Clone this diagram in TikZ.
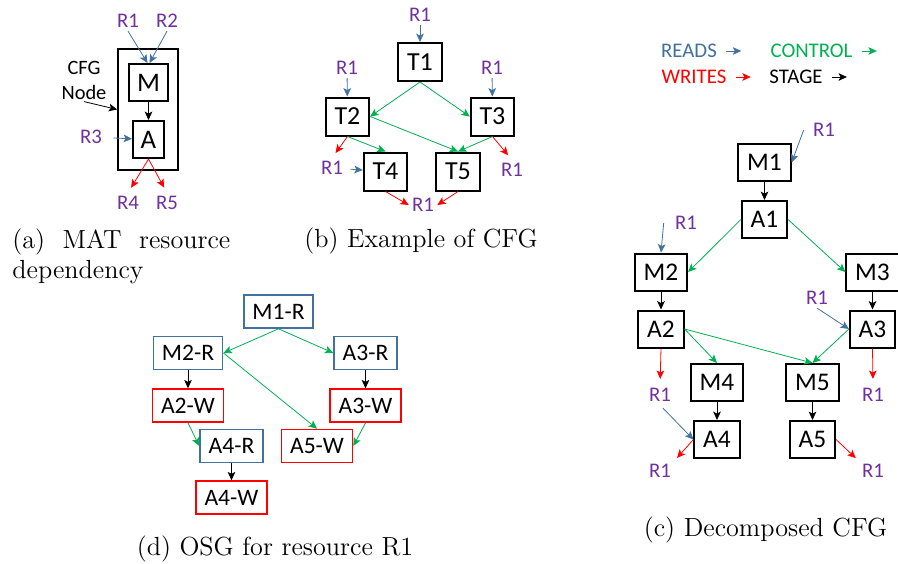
\documentclass[tikz,border=0pt]{standalone}
\usepackage{fontspec}
\setsansfont{Carlito}
\usepackage{xcolor}
\usetikzlibrary{arrows.meta, positioning}
\definecolor{rdblue}{HTML}{41719C}
\definecolor{respurple}{HTML}{7030A0}
\definecolor{ctlgreen}{HTML}{00B050}
\definecolor{wrred}{HTML}{FF0000}
\tikzset{
	node distance = 9pt,
	line width = .65pt,
	>={Stealth[length=4.2pt, width=3.8pt, inset=1pt]},
	font = \sffamily,
	stagebox/.style={
		draw,
		line width=1pt,
		inner xsep=4.4pt,
		inner ysep=0pt,
		minimum height=18.5pt,
		font=\sffamily\fontsize{12.7}{14}\selectfont
	},
	bigbox/.style={
		stagebox,
		minimum height=19pt,
		font=\sffamily\fontsize{13}{15}\selectfont
	},
	opbox/.style={
		draw,
		line width=.8pt,
		inner xsep=4.3pt,
		inner ysep=0pt,
		minimum height=16.5pt,
		font=\sffamily\fontsize{11.8}{13}\selectfont
	},
	readbox/.style={opbox, draw=rdblue},
	writebox/.style={opbox, draw=wrred},
	res/.style={
		text=respurple,
		inner sep=1.5pt,
		font=\sffamily\fontsize{10.4}{12}\selectfont
	},
	legend/.style={
		inner sep=0pt,
		font=\sffamily\fontsize{10.4}{12}\selectfont
	},
	rd/.style={->, rdblue},
	wr/.style={->, wrred},
	ctl/.style={->, ctlgreen},
	stg/.style={->, black},
	subcap/.style={
		inner sep=0pt,
		font=\rmfamily\fontsize{13.1}{15.3}\selectfont
	}
}

\begin{document}
\begin{tikzpicture}[x=.5pt, y=-.5pt]
		\useasboundingbox (0,0) rectangle (898,563);

		% (a) one CFG node
		\node[bigbox, minimum width=19.5pt, minimum height=18.5pt, inner xsep=0pt, font=\sffamily\fontsize{13.4}{15}\selectfont] (m) at (148.5,82.5) {M};
		\node[bigbox, minimum width=15.5pt, minimum height=18.5pt, inner xsep=0pt, font=\sffamily\fontsize{13.4}{15}\selectfont, below=of m] (a) {A};
		\node[draw, line width=.8pt, minimum width=30pt, minimum height=60.5pt] (cfg) at (148,109.5) {};
		\node[legend, align=center, font=\sffamily\fontsize{10.2}{12.5}\selectfont] (cfgnote) at (84,80) {CFG\\Node};
		\node[res] (ra1) at (128,21) {R1};
		\node[res] (ra2) at (167,21) {R2};
		\node[res] (ra3) at (91,137) {R3};
		\node[res] (ra4) at (128,203) {R4};
		\node[res] (ra5) at (167,203) {R5};

		\draw[stg] ([yshift=-1pt]cfgnote.south) -- (cfg.west);
		\draw[rd] (ra1.south) -- ([xshift=-.5pt]m.north);
		\draw[rd] (ra2.south) -- ([xshift=.5pt]m.north);
		\draw[stg] (m) -- (a);
		\draw[rd, shorten <=4pt] (ra3) -- (a);
		\draw[wr, shorten >=3pt] (a.south) -- (ra4.north);
		\draw[wr, shorten >=3pt] (a.south) -- (ra5.north);

		% (b) control flow graph
		\node[bigbox] (t1) at (420,62) {T1};
		\node[bigbox] (t2) at (347.5,116.5) {T2};
		\node[bigbox] (t3) at (492.5,116.5) {T3};
		\node[bigbox] (t4) at (385.5,171.5) {T4};
		\node[bigbox] (t5) at (458,171.5) {T5};
		\node[res] (rb1) at (420,15) {R1};
		\node[res] (rb2) at (347,68) {R1};
		\node[res] (rb3) at (492,68) {R1};
		\node[res] (rb4) at (332,168) {R1};
		\node[res] (rb5) at (512,170) {R1};
		\node[res] (rb6) at (423,205) {R1};

		\draw[rd] (rb1) -- (t1);
		\draw[rd] (rb2) -- (t2);
		\draw[rd] (rb3) -- (t3);
		\draw[ctl] (t1.south) -- (t2.east);
		\draw[ctl] (t1.south) -- (t3.west);
		\draw[ctl] (t2.east) -- (t5.north);
		\draw[ctl] (t2.south) -- (t4.north);
		\draw[ctl] (t3.south) -- (t5.north);
		\draw[wr, shorten >=3pt] (t2.south) -- (rb4.north);
		\draw[rd, shorten <=2pt] (rb4) -- (t4);
		\draw[wr, shorten >=3pt] (t3.south) -- (rb5.north);
		\draw[wr] (t4.south) -- (rb6.west);
		\draw[wr] (t5.south) -- (rb6.east);

		% legend
		\node[legend, text=rdblue] (reads) at (689,51) {READS};
		\node[legend, text=ctlgreen] (control) at (811.5,51) {CONTROL};
		\node[legend, text=wrred] (writes) at (694,77) {WRITES};
		\node[legend] (stage) at (796,77) {STAGE};
		\draw[rd] ([xshift=4.5pt]reads.east) -- ++(15,0);
		\draw[ctl] ([xshift=4.5pt]control.east) -- ++(15,0);
		\draw[wr] ([xshift=4.5pt]writes.east) -- ++(15,0);
		\draw[stg] ([xshift=4.5pt]stage.east) -- ++(15,0);

		% (c) decomposed CFG
		\node[stagebox] (m1) at (764.5,162.5) {M1};
		\node[stagebox, below=of m1] (a1) {A1};
		\node[stagebox] (m2) at (661,272) {M2};
		\node[stagebox, below=of m2] (a2) {A2};
		\node[stagebox] (m3) at (872.5,272) {M3};
		\node[stagebox, below=of m3] (a3) {A3};
		\node[stagebox] (m4) at (717,382.5) {M4};
		\node[stagebox, below=of m4] (a4) {A4};
		\node[stagebox] (m5) at (812.5,382.5) {M5};
		\node[stagebox, below=of m5] (a5) {A5};
		\node[res] (rc1) at (824,130) {R1};
		\node[res] (rc2) at (686,223) {R1};
		\node[res] (rc3) at (817,298) {R1};
		\node[res] (rc4) at (660,395) {R1};
		\node[res] (rc5) at (873,395) {R1};
		\node[res] (rc6) at (660,471) {R1};
		\node[res] (rc7) at (873,471) {R1};

		\draw[rd] ([xshift=-3pt]rc1.west) -- (m1.east);
		\draw[rd] ([xshift=-4pt]rc2.west) -- (m2.north);
		\draw[stg] (m1) -- (a1);
		\draw[ctl] (a1.west) -- (m2.east);
		\draw[ctl] (a1.east) -- (m3.west);
		\draw[stg] (m2) -- (a2);
		\draw[stg] (m3) -- (a3);
		\draw[rd] (rc3.south) -- (a3.west);
		\draw[ctl] (a2.east) -- (m4.north);
		\draw[ctl] (a2.east) -- (m5.north);
		\draw[ctl] (a3.west) -- (m5.north);
		\draw[wr, shorten >=3pt] (a2.south) -- (rc4.north);
		\draw[wr, shorten >=3pt] (a3.south) -- (rc5.north);
		\draw[stg] (m4) -- (a4);
		\draw[stg] (m5) -- (a5);
		\draw[rd, shorten <=2pt] (rc4.south) -- (a4.west);
		\draw[wr, shorten >=2pt] (a4.west) -- (rc6.north east);
		\draw[wr, shorten >=2pt] (a5.east) -- (rc7.north west);

		% (d) operation graph for R1
		\node[readbox] (m1r) at (278.5,311.5) {M1-R};
		\node[readbox] (m2r) at (188,353) {M2-R};
		\node[readbox] (a3r) at (365.5,353) {A3-R};
		\node[writebox, below=of m2r] (a2w) {A2-W};
		\node[writebox, below=of a3r] (a3w) {A3-W};
		\node[readbox] (a4r) at (231.5,446) {A4-R};
		\node[writebox] (a5w) at (317,446) {A5-W};
		\node[writebox, below=8.5pt of a4r] (a4w) {A4-W};

		\draw[ctl] (m1r.south) -- (m2r.east);
		\draw[ctl] (m1r.south) -- (a3r.west);
		\draw[ctl] (m2r.east) -- (a5w.north);
		\draw[stg] (m2r) -- (a2w);
		\draw[stg] (a3r) -- (a3w);
		\draw[ctl] (a2w.south) -- (a4r.west);
		\draw[ctl] (a3w.south) -- (a5w.east);
		\draw[stg] (a4r) -- (a4w);

		% captions
		\node[subcap, anchor=base west, text width=109pt, align=justify] (capa) at (12,248) {(a) MAT resource dependency};
		\node[subcap, anchor=base] (capb) at (421,247) {(b) Example of CFG};
		\node[subcap, anchor=base] (capc) at (765.5,536) {(c) Decomposed CFG};
		\node[subcap, anchor=base] (capd) at (275,555) {(d) OSG for resource R1};
	\end{tikzpicture}
\end{document}
